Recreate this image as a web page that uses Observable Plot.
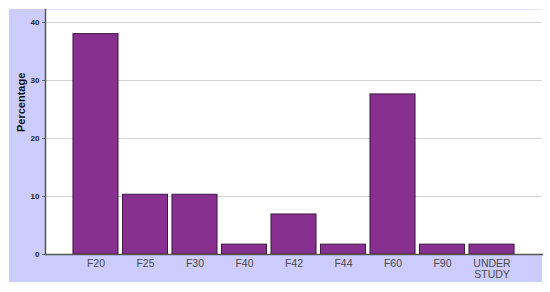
<!DOCTYPE html>
<html>
<head>
<meta charset="utf-8">
<script src="https://cdn.jsdelivr.net/npm/d3@7"></script>
<script src="https://cdn.jsdelivr.net/npm/@observablehq/plot@0.6"></script>
<style>
  html, body { margin: 0; padding: 0; background: #ffffff; }
  #wrap { position: relative; width: 550px; height: 292px; }
  #panel { position: absolute; left: 9px; top: 9px; width: 533px; height: 273px; background: #ccccfe; }
  #chart { position: absolute; left: 0; top: 0; }
</style>
</head>
<body>
<div id="wrap"><div id="panel"></div><div id="chart"></div></div>
<script>
const categories = ["F20", "F25", "F30", "F40", "F42", "F44", "F60", "F90", "UNDER STUDY"];
const percentages = [38.0, 10.3, 10.3, 1.7, 6.9, 1.7, 27.6, 1.7, 1.7];
const yTicks = [0, 10, 20, 30, 40];

const data = categories.map((c, i) => ({category: c, value: percentages[i]}));

const chart = Plot.plot({
  width: 550,
  height: 292,
  marginLeft: 45,
  marginRight: 8,
  marginTop: 9,
  marginBottom: 38,
  style: {background: "transparent", fontFamily: "'Liberation Sans', Arial, sans-serif"},
  x: {domain: categories, paddingInner: 0.09, paddingOuter: 0.565, round: false, label: null},
  y: {domain: [0, 42.24], label: null},
  marks: [
    Plot.frame({fill: "white", stroke: "none"}),
    Plot.gridY(yTicks, {stroke: "#d4d4d4", strokeOpacity: 1, strokeWidth: 1}),
    Plot.axisY(yTicks, {
      tickSize: 3, tickPadding: 3, fontSize: 8, fontWeight: "bold", fill: "#222",
      stroke: "#666", tickFormat: d => d, label: null
    }),
    Plot.text(["Percentage"], {
      frameAnchor: "left", dx: -24, rotate: -90, fontSize: 11, fontWeight: "bold", fill: "#111"
    }),
    Plot.barY(data, {x: "category", y: "value", fill: "#87308f", stroke: "#3d1a42", strokeWidth: 1}),
    Plot.axisX({
      tickSize: 0, tickPadding: 5, fontSize: 10.5, lineHeight: 1.05, fill: "#4a4a4a", lineAnchor: "top",
      tickFormat: d => d.replace(" ", "\n"), label: null
    }),
    Plot.frame({anchor: "bottom", stroke: "#555", strokeWidth: 1.5}),
    Plot.frame({anchor: "left", stroke: "#555", strokeWidth: 1.5})
  ]
});
document.getElementById("chart").appendChild(chart);
</script>
</body>
</html>
